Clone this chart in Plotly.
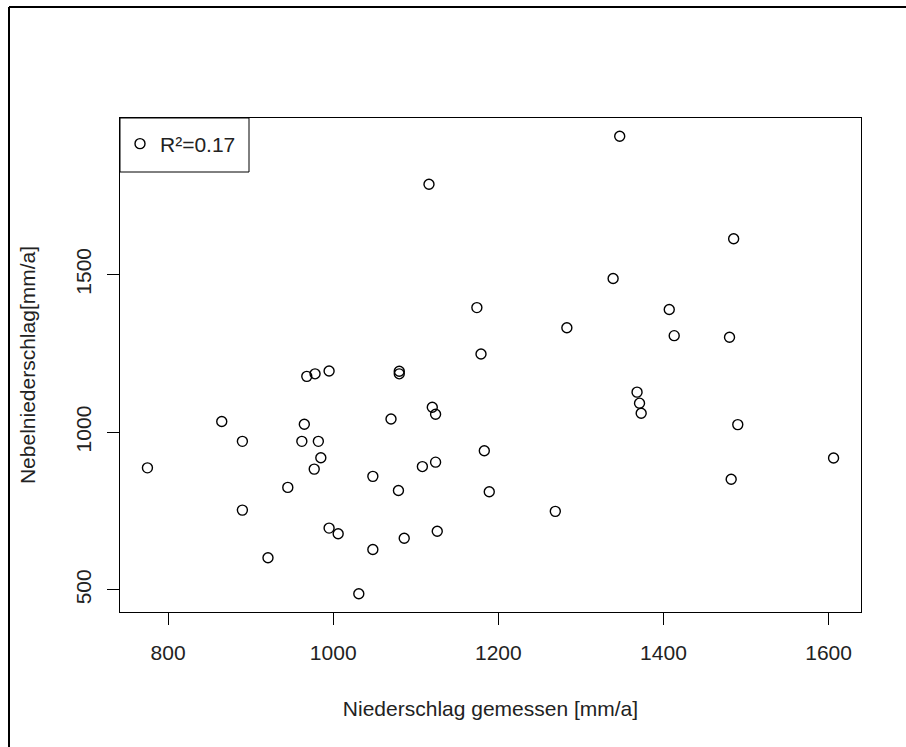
import plotly.graph_objects as go

# Niederschlag gemessen [mm/a]
niederschlag = [775, 865, 890, 890, 921, 945, 962, 965, 968, 978, 977, 982,
                985, 995, 995, 1006, 1031, 1048, 1048, 1070, 1080, 1080, 1079, 1086,
                1108, 1116, 1120, 1124, 1124, 1126, 1174, 1179, 1183, 1189, 1269, 1283,
                1339, 1347, 1368, 1371, 1373, 1407, 1413, 1480, 1482, 1485, 1490, 1606]
# Nebelniederschlag [mm/a]
nebel = [887, 1034, 971, 753, 602, 825, 971, 1025, 1177, 1185, 883, 971,
         919, 1194, 696, 678, 488, 860, 628, 1042, 1193, 1185, 815, 664,
         891, 1786, 1079, 1057, 905, 686, 1395, 1248, 941, 811, 749, 1331,
         1487, 1938, 1127, 1092, 1060, 1389, 1306, 1301, 851, 1613, 1024, 918]

x_ticks = [800, 1000, 1200, 1400, 1600]
y_ticks = [500, 1000, 1500]
legend_label = "R²=0.17"


def r_range(v):
    lo, hi = min(v), max(v)
    pad = (hi - lo) * 0.04
    return [lo - pad, hi + pad]


FONT = "Liberation Sans, Arial, sans-serif"
FS = 21
TXT = "#222"

fig = go.Figure()
fig.add_trace(go.Scatter(
    x=niederschlag, y=nebel, mode="markers", name=legend_label,
    marker=dict(symbol="circle-open", size=10, color="black",
                line=dict(width=1.4, color="black")),
))

W, H = 906, 747
L, R, T, B = 120, 45, 118, 135
pw, ph = W - L - R, H - T - B


def px2paper(x, y):
    return (x - L) / pw, (H - B - y) / ph


x0, y0 = px2paper(9, 7)
x1, _ = px2paper(906, 7)
_, yb = px2paper(9, 747)
lx1, ly1 = px2paper(249, 172)
_, lyc = px2paper(0, 144)

fig.update_layout(
    width=W, height=H,
    margin=dict(l=L, r=R, t=T, b=B, pad=0),
    paper_bgcolor="white", plot_bgcolor="white",
    font=dict(family=FONT, size=FS, color=TXT),
    showlegend=True,
    legend=dict(x=0, y=lyc, xanchor="left", yanchor="middle",
                borderwidth=0, bgcolor="rgba(0,0,0,0)",
                font=dict(size=FS, family=FONT, color=TXT),
                itemwidth=30),
    xaxis=dict(range=r_range(niederschlag), tickvals=x_ticks,
               showgrid=False, zeroline=False, showline=True, mirror=True,
               linecolor="black", linewidth=1, ticks="outside", ticklen=12,
               tickcolor="black", tickfont=dict(size=FS, family=FONT, color=TXT),
               ticklabelstandoff=10,
               title=dict(text="Niederschlag gemessen [mm/a]", standoff=38,
                          font=dict(size=FS, family=FONT, color=TXT))),
    yaxis=dict(range=r_range(nebel), tickvals=y_ticks, tickangle=-90,
               showgrid=False, zeroline=False, showline=True, mirror=True,
               linecolor="black", linewidth=1, ticks="outside", ticklen=12,
               tickcolor="black", tickfont=dict(size=FS, family=FONT, color=TXT),
               ticklabelstandoff=8,
               title=dict(text="Nebelniederschlag[mm/a]", standoff=30,
                          font=dict(size=FS, family=FONT, color=TXT))),
    shapes=[
        dict(type="line", xref="paper", yref="paper", x0=x0, y0=y0, x1=x0, y1=yb,
             line=dict(color="black", width=2)),
        dict(type="line", xref="paper", yref="paper", x0=x0, y0=y0, x1=x1, y1=y0,
             line=dict(color="black", width=2)),
        dict(type="rect", xref="paper", yref="paper", x0=0, y0=1, x1=lx1, y1=ly1,
             line=dict(color="black", width=1), fillcolor="rgba(0,0,0,0)",
             layer="above"),
    ],
)

fig.write_html("out.html")
